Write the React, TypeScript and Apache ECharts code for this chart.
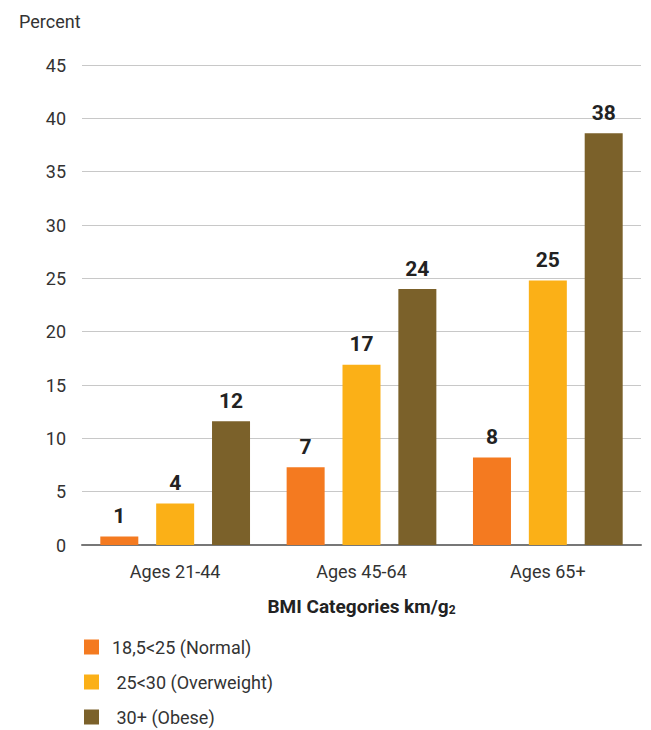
import React, { useEffect, useRef } from "react";
import * as echarts from "echarts";

const categories = ["Ages 21-44", "Ages 45-64", "Ages 65+"];
const seriesNames = ["18,5<25 (Normal)", " 25<30 (Overweight)", " 30+ (Obese)"];
const normalValues = [0.8, 7.3, 8.2];
const overweightValues = [3.9, 16.9, 24.8];
const obeseValues = [11.6, 24.0, 38.6];
const normalLabels = ["1", "7", "8"];
const overweightLabels = ["4", "17", "25"];
const obeseLabels = ["12", "24", "38"];
const yTicks = [0, 5, 10, 15, 20, 25, 30, 35, 40, 45];

const colors = ["#F47A20", "#FBB017", "#7B612A"];
const FONT = "'Liberation Sans Narrow', 'Roboto', 'Liberation Sans', sans-serif";

export default function App() {
  const ref = useRef<HTMLDivElement>(null);
  useEffect(() => {
    document.body.style.margin = "0";
    if (!ref.current) return;
    const chart = echarts.init(ref.current, null, { renderer: "svg" });
    const values = [normalValues, overweightValues, obeseValues];
    const labels = [normalLabels, overweightLabels, obeseLabels];
    chart.setOption({
      animation: false,
      textStyle: { fontFamily: FONT },
      title: {
        text: "Percent",
        left: 14,
        top: 7,
        textStyle: { fontFamily: FONT, fontSize: 18, fontWeight: "normal", color: "#333" },
      },
      legend: seriesNames.map((name, i) => ({
        orient: "vertical",
        left: 79,
        top: 633 + i * 35,
        icon: "rect",
        itemWidth: 15,
        itemHeight: 15,
        data: [name],
        textStyle: { fontFamily: FONT, fontSize: 18, color: "#333", padding: [0, 0, 0, 8] },
      })),
      grid: { left: 82, right: 10, top: 65, bottom: 185, containLabel: false },
      xAxis: {
        type: "category",
        data: categories,
        axisLine: { lineStyle: { color: "#777", width: 2 } },
        axisTick: { show: false },
        axisLabel: { fontFamily: FONT, fontSize: 18, color: "#333", margin: 17 },
        name: "{b|BMI Categories km/g}{s|2}",
        nameLocation: "middle",
        nameGap: 52,
        nameTextStyle: {
          rich: {
            b: { fontFamily: FONT, fontSize: 19, fontWeight: "bold", color: "#222" },
            s: { fontFamily: FONT, fontSize: 12, fontWeight: "bold", color: "#222", padding: [6, 0, 0, 0] },
          },
        },
      },
      yAxis: {
        type: "value",
        min: yTicks[0],
        max: yTicks[yTicks.length - 1],
        interval: 5,
        axisLine: { show: false },
        axisTick: { show: false },
        splitLine: { lineStyle: { color: "#c8c8c8", width: 1 } },
        axisLabel: { fontFamily: FONT, fontSize: 18, color: "#333", margin: 16 },
      },
      series: seriesNames.map((name, i) => ({
        name,
        type: "bar",
        data: values[i],
        barWidth: 38,
        barGap: "47%",
        itemStyle: { color: colors[i] },
        label: {
          show: true,
          position: "top",
          distance: 10,
          formatter: (p: any) => labels[i][p.dataIndex],
          fontFamily: FONT,
          fontSize: 21,
          fontWeight: "bold",
          color: "#222",
        },
      })),
    });
    return () => chart.dispose();
  }, []);
  return <div ref={ref} style={{ width: 651, height: 730 }} />;
}
